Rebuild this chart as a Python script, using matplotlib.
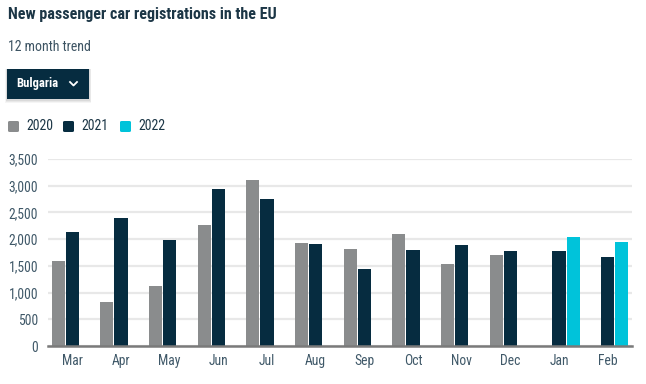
import numpy as np
import matplotlib.pyplot as plt
from matplotlib.patches import Rectangle, FancyBboxPatch
from matplotlib.lines import Line2D

months = ["Mar", "Apr", "May", "Jun", "Jul", "Aug", "Sep", "Oct", "Nov", "Dec", "Jan", "Feb"]
years = ["2020", "2021", "2022"]
reg_2020 = [1600, 820, 1120, 2270, 3110, 1920, 1810, 2090, 1530, 1700, np.nan, np.nan]
reg_2021 = [2140, 2390, 1980, 2940, 2760, 1900, 1440, 1790, 1890, 1770, 1770, 1660]
reg_2022 = [np.nan] * 10 + [2040, 1940]
y_ticks = [0, 500, 1000, 1500, 2000, 2500, 3000, 3500]

colors = {"2020": "#8a8c8d", "2021": "#062c40", "2022": "#00c3da"}
text_col = "#1c3646"
tick_col = "#3f5868"

plt.rcParams["font.family"] = ["Roboto Condensed", "Roboto", "DejaVu Sans"]

fig = plt.figure(figsize=(6.46, 3.84), dpi=100)
W, H = 646, 384

def fx(px):
    return px / W

def fy(py):
    return 1 - py / H

# header texts
fig.text(fx(8), fy(15), "New passenger car registrations in the EU", fontsize=11.5,
         fontweight="bold", color=text_col, va="center", ha="left")
fig.text(fx(8), fy(47), "12 month trend", fontsize=10, color="#3d5463",
         va="center", ha="left")

# dropdown button with soft shadow
for k, a in [(4, 0.04), (3, 0.05), (2, 0.06)]:
    fig.patches.append(Rectangle((fx(7 - k / 2), fy(99 + k)), fx(82 + k), (30 + k) / H,
                                 transform=fig.transFigure, facecolor="#000000",
                                 alpha=a, edgecolor="none"))
fig.patches.append(Rectangle((fx(7), fy(99)), fx(82), 30 / H, transform=fig.transFigure,
                             facecolor="#062c40", edgecolor="none"))
fig.text(fx(16), fy(84), "Bulgaria", fontsize=9, fontweight="bold", color="white",
         va="center", ha="left")
fig.add_artist(Line2D([fx(70), fx(73.5), fx(77)], [fy(82), fy(85.5), fy(82)],
                      transform=fig.transFigure, color="white", lw=1.3))

# legend
leg_x = [8, 63, 120]
for yr, lx in zip(years, leg_x):
    fig.patches.append(FancyBboxPatch((fx(lx), fy(132)), fx(11), 11 / H,
                                      boxstyle="round,pad=0,rounding_size=0.003",
                                      transform=fig.transFigure,
                                      facecolor=colors[yr], edgecolor="none"))
    fig.text(fx(lx + 18), fy(126.5), yr, fontsize=10, color=text_col,
             va="center", ha="left")

# chart: three slots per month, empty slot where a year has no data
ax = fig.add_axes([fx(48), fy(346), fx(584), 187 / H])
x = np.arange(len(months))
bw = 0.268
slot = 0.294
series = [reg_2020, reg_2021, reg_2022]
for k, (yr, vals) in enumerate(zip(years, series)):
    ax.bar(x + (k - 1) * slot, vals, width=bw, color=colors[yr], zorder=3)

ax.set_xlim(-0.5, len(months) - 0.5)
ax.set_ylim(0, 3500)
ax.set_yticks(y_ticks)
ax.set_yticklabels([f"{v:,}" for v in y_ticks])
ax.set_xticks(x)
ax.set_xticklabels(months)
ax.tick_params(axis="both", length=0, labelsize=9.8, labelcolor=tick_col)
ax.tick_params(axis="y", pad=7)
ax.tick_params(axis="x", pad=6)
ax.grid(axis="y", color="#e8e8e8", lw=1.6, zorder=0)
ax.set_axisbelow(True)
for side in ["top", "right", "left"]:
    ax.spines[side].set_visible(False)
ax.spines["bottom"].set_color("#7a7a7a")
ax.spines["bottom"].set_linewidth(1.8)
ax.spines["bottom"].set_zorder(4)

fig.savefig("out.png", dpi=100)
